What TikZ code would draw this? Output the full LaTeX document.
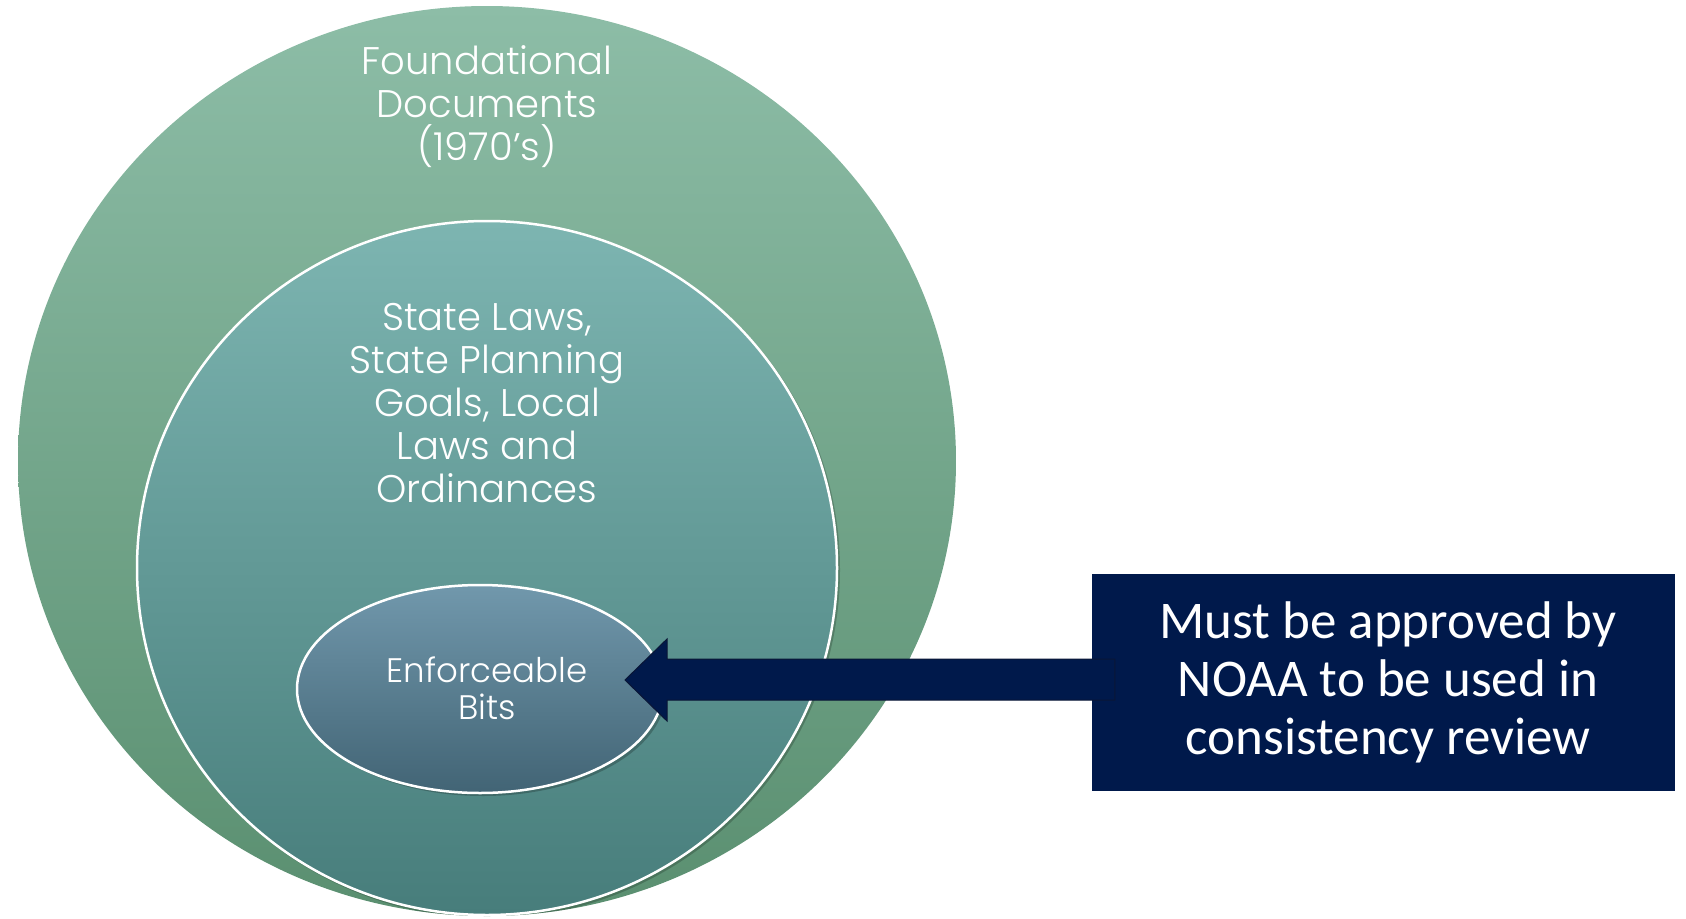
\documentclass[tikz,border=0pt]{standalone}
\usepackage{fontspec}
\setmainfont{Poppins Light}
\newfontfamily\calib{Carlito}
\usetikzlibrary{shapes.geometric,calc}
\definecolor{outtop}{HTML}{8DBDA7}
\definecolor{outbot}{HTML}{5A8F70}
\definecolor{midtop}{HTML}{7DB5B1}
\definecolor{midbot}{HTML}{477D7B}
\definecolor{inntop}{HTML}{7198AC}
\definecolor{innbot}{HTML}{426475}
\definecolor{navy}{HTML}{00194B}
\definecolor{navyline}{HTML}{0A1636}
\begin{document}
\begin{tikzpicture}[x=1pt,y=-1pt,
  blob/.style={ellipse,inner sep=0pt},
  circtext/.style={text=white,align=center,font=\fontsize{38.5}{43}\selectfont},
  notebox/.style={fill=navy,draw=navy,inner sep=0pt,minimum width=582pt,minimum height=216pt,
    text=white,align=center,font=\calib\fontsize{53}{58}\selectfont}]
\useasboundingbox (0,0) rectangle (1686,918);
\node[blob,minimum width=938pt,minimum height=910pt,top color=outtop,bottom color=outbot] (outer) at (487,461) {};
\begin{scope}
\clip (487,461) ellipse [x radius=469pt,y radius=455pt];
\node[blob,minimum width=702pt,minimum height=696pt,fill=black,fill opacity=0.2] (midshadow) at (489,570) {};
\end{scope}
\node[blob,minimum width=700pt,minimum height=694pt,top color=midtop,bottom color=midbot,draw=white,line width=2.5pt] (middle) at (487,568) {};
\node[blob,minimum width=366pt,minimum height=208pt,fill=black,fill opacity=0.22] (innshadow) at (483,692) {};
\node[blob,minimum width=366pt,minimum height=208pt,top color=inntop,bottom color=innbot,draw=white,line width=2.5pt] (inner) at (480,689) {};
\node[circtext] (t1) at (487,107) {Foundational\\Documents\\(1970’s)};
\node[circtext] (t2) at (487,403) {State Laws,\\State Planning\\Goals, Local\\Laws and\\Ordinances};
\node[circtext,font=\fontsize{34}{37}\selectfont] (t3) at (487,688) {Enforceable\\Bits};
\node[notebox] (note) at (1383,682) {\hspace*{10pt}Must be approved by\\\hspace*{10pt}NOAA to be used in\\\hspace*{10pt}consistency review};
\coordinate (tip) at (625,680);
\fill[navy,draw=navyline,line width=1pt] (tip) -- (667,639) -- (667,659) -- ($(note.west)+(23,-23)$) -- ($(note.west)+(23,18)$) -- (667,700) -- (667,721) -- cycle;
\end{tikzpicture}
\end{document}
